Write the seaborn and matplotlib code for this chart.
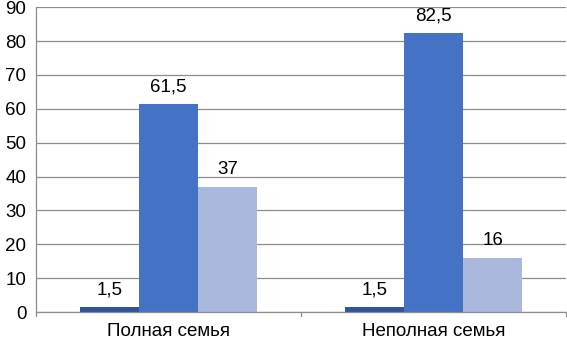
import pandas as pd
import seaborn as sns
import matplotlib.pyplot as plt

# data
categories = ["Полная семья", "Неполная семья"]
series = ["Ряд 1", "Ряд 2", "Ряд 3"]
values_s1 = [1.5, 1.5]
values_s2 = [61.5, 82.5]
values_s3 = [37, 16]

df = pd.DataFrame({
    "Семья": categories * 3,
    "Ряд": [series[0]] * 2 + [series[1]] * 2 + [series[2]] * 2,
    "Значение": values_s1 + values_s2 + values_s3,
})

sns.set_style("white")
plt.rcParams["font.family"] = ["Liberation Sans", "DejaVu Sans"]

fig = plt.figure(figsize=(5.67, 3.41), dpi=100)
ax = fig.add_axes([0.0635, 0.085, 0.935, 0.894])

sns.barplot(
    data=df, x="Семья", y="Значение", hue="Ряд",
    palette=["#2F5597", "#4472C4", "#A9B8DC"],
    width=0.67, gap=0, saturation=1, legend=False, linewidth=0, ax=ax,
)

def fmt(v):
    s = ("%.1f" % v).rstrip("0").rstrip(".")
    return s.replace(".", ",")

for cont in ax.containers:
    ax.bar_label(cont, labels=[fmt(v) for v in cont.datavalues],
                 padding=6, fontsize=13.5, color="black")

ax.set_ylim(0, 90)
ax.set_yticks(range(0, 91, 10))
ax.set_xlim(-0.5, 1.5)
ax.yaxis.grid(True, color="#8C8C8C", linewidth=0.9)
ax.set_axisbelow(True)

ax.set_xlabel("")
ax.set_ylabel("")
ax.tick_params(axis="both", labelsize=13.5, colors="black")
ax.tick_params(axis="y", length=4, color="#8C8C8C", pad=3)
ax.tick_params(axis="x", length=0, pad=8)

# small separator ticks on the x axis between categories
for xb in [-0.5, 0.5, 1.5]:
    ax.plot([xb, xb], [0, -1.2], color="#8C8C8C", lw=0.9, clip_on=False)

for side in ["top", "right"]:
    ax.spines[side].set_visible(False)
for side in ["left", "bottom"]:
    ax.spines[side].set_color("#8C8C8C")
    ax.spines[side].set_linewidth(0.9)

fig.savefig("out.png", dpi=100)
